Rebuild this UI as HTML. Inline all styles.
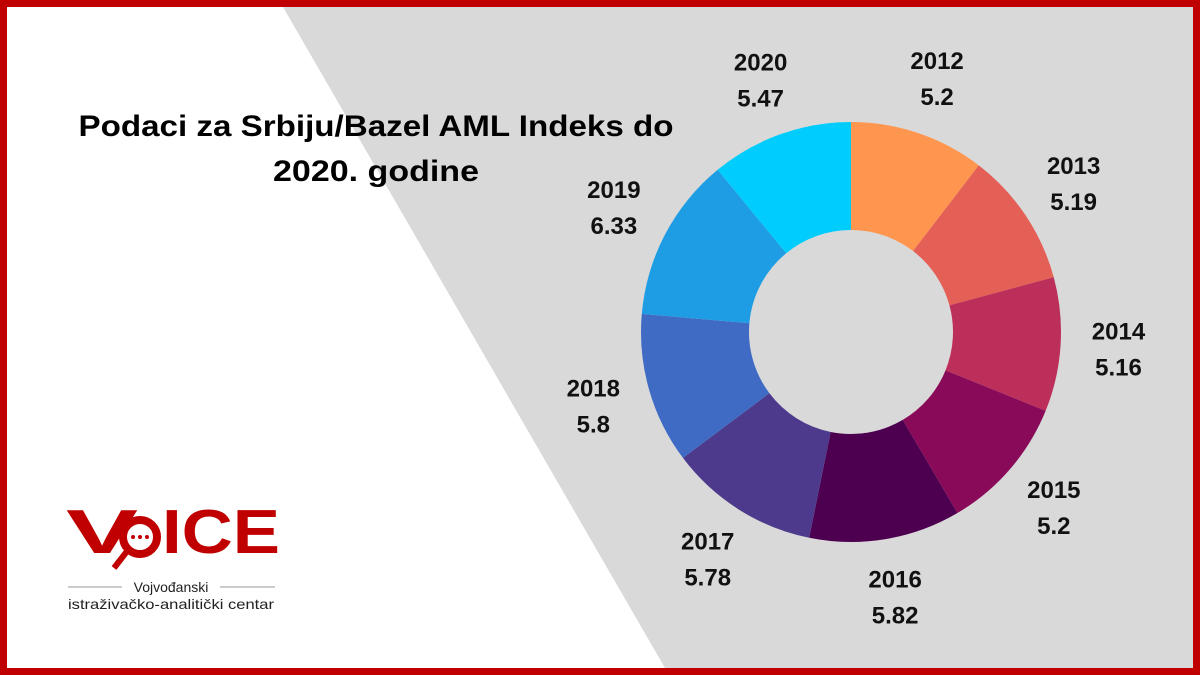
<!DOCTYPE html>
<html><head><meta charset="utf-8"><style>
html,body{margin:0;padding:0;background:#fff}
svg{display:block;font-family:"Liberation Sans",sans-serif}
</style></head><body>
<svg id="c" width="1200" height="675" viewBox="0 0 1200 675">
<rect x="0" y="0" width="1200" height="675" fill="#fff"/>
<polygon points="283,7 1193,7 1193,668 665,668" fill="#d9d9d9"/>
<rect x="3.5" y="3.5" width="1193" height="668" fill="none" stroke="#c00000" stroke-width="7"/>
<g font-weight="bold" font-size="30" fill="#000" text-anchor="middle">
<text x="376" y="136" textLength="595" lengthAdjust="spacingAndGlyphs">Podaci za Srbiju/Bazel AML Indeks do</text>
<text x="376" y="181" textLength="206" lengthAdjust="spacingAndGlyphs">2020. godine</text>
</g>
<g id="donut"></g>
<g id="labels"></g>
<g>
<text x="66" y="553" font-size="62" font-weight="bold" fill="#c00000" textLength="72" lengthAdjust="spacingAndGlyphs">V</text>
<circle cx="140" cy="537" r="17" fill="none" stroke="#c00000" stroke-width="8"/>
<line x1="128" y1="550" x2="114" y2="568" stroke="#c00000" stroke-width="6"/>
<circle cx="133" cy="537" r="2" fill="#c00000"/><circle cx="140" cy="537" r="2" fill="#c00000"/><circle cx="147" cy="537" r="2" fill="#c00000"/>
<text x="162" y="553" font-size="62" font-weight="bold" fill="#c00000" textLength="118" lengthAdjust="spacingAndGlyphs">ICE</text>
<line x1="68" y1="587" x2="122" y2="587" stroke="#999" stroke-width="1"/>
<line x1="220" y1="587" x2="275" y2="587" stroke="#999" stroke-width="1"/>
<text x="171" y="592" font-size="14" fill="#222" text-anchor="middle">Vojvođanski</text>
<text x="171" y="609" font-size="14" fill="#222" text-anchor="middle" textLength="206" lengthAdjust="spacingAndGlyphs">istraživačko-analitički centar</text>
</g>
</svg>
<script>
const years = ["2012","2013","2014","2015","2016","2017","2018","2019","2020"];
const values = [5.2,5.19,5.16,5.2,5.82,5.78,5.8,6.33,5.47];
const valueLabels = ["5.2","5.19","5.16","5.2","5.82","5.78","5.8","6.33","5.47"];
const colors = ["#ff9650","#e45f56","#bc2f5a","#8a0a5a","#4d0050","#4d3a8c","#3f6bc4","#1f9de4","#00cdfd"];
const NS="http://www.w3.org/2000/svg";
const cx=851, cy=332, R=210, r0=102, RL=268;
const total=values.reduce((a,b)=>a+b,0);
const pt=(a,rad)=>[cx+rad*Math.sin(a), cy-rad*Math.cos(a)];
let acc=0;
const g=document.getElementById('donut'), lg=document.getElementById('labels');
values.forEach((v,i)=>{
  const a0=acc/total*2*Math.PI; acc+=v; const a1=acc/total*2*Math.PI;
  const large=(a1-a0)>Math.PI?1:0;
  const [x0,y0]=pt(a0,R),[x1,y1]=pt(a1,R),[x2,y2]=pt(a1,r0),[x3,y3]=pt(a0,r0);
  const p=document.createElementNS(NS,'path');
  p.setAttribute('d',`M${x0},${y0}A${R},${R} 0 ${large} 1 ${x1},${y1}L${x2},${y2}A${r0},${r0} 0 ${large} 0 ${x3},${y3}Z`);
  p.setAttribute('fill',colors[i]);
  
  
  g.appendChild(p);
  const am=(a0+a1)/2; const [lx,ly]=pt(am,RL);
  const t=document.createElementNS(NS,'text');
  t.setAttribute('x',lx); t.setAttribute('text-anchor','middle');
  t.setAttribute('font-size','24'); t.setAttribute('font-weight','bold'); t.setAttribute('fill','#111');
  
  
  const s1=document.createElementNS(NS,'tspan'); s1.setAttribute('x',lx); s1.setAttribute('y',ly-9); s1.textContent=years[i];
  const s2=document.createElementNS(NS,'tspan'); s2.setAttribute('x',lx); s2.setAttribute('y',ly+27); s2.textContent=valueLabels[i];
  t.appendChild(s1); t.appendChild(s2); lg.appendChild(t);
});
</script>
</body></html>
